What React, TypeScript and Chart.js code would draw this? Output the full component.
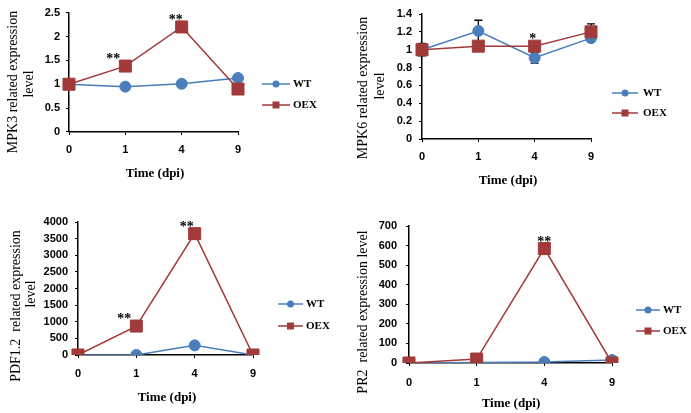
import React, { useEffect, useRef } from 'react';
import { Chart, registerables } from 'chart.js';

Chart.register(...registerables);

const W = 691;
const H = 413;

// ---- data ----
const categories = ['0', '1', '4', '9'];
const seriesNames = ['WT', 'OEX'];

const mpk3WT = [1, 0.95, 1.01, 1.13];
const mpk3OEX = [1, 1.38, 2.2, 0.9];
const mpk3Stars = ['', '**', '**', ''];
const mpk3Ticks = [0, 0.5, 1, 1.5, 2, 2.5];

const mpk6WT = [1, 1.21, 0.91, 1.13];
const mpk6OEX = [1, 1.04, 1.04, 1.2];
const mpk6WTErr = [0.07, 0.12, 0.06, 0.03];
const mpk6OEXErr = [0.05, 0.05, 0.04, 0.09];
const mpk6Stars = ['', '', '*', ''];
const mpk6Ticks = [0, 0.2, 0.4, 0.6, 0.8, 1, 1.2, 1.4];

const pdfWT = [0, 0, 290, 0];
const pdfOEX = [0, 870, 3650, 0];
const pdfStars = ['', '**', '**', ''];
const pdfTicks = [0, 500, 1000, 1500, 2000, 2500, 3000, 3500, 4000];

const pr2WT = [0, 3, 5, 15];
const pr2OEX = [0, 20, 585, 0];
const pr2Stars = ['', '', '**', ''];
const pr2Ticks = [0, 100, 200, 300, 400, 500, 600, 700];

// ---- styles / layout ----
const BLUE = '#4A7EBB';
const RED = '#A13A3A';
const TICK_FONT = { family: '"Liberation Sans", Arial, sans-serif', weight: 'bold' as const, size: 11 };

type Panel = {
  wt: number[];
  oex: number[];
  wtErr?: number[];
  oexErr?: number[];
  stars: string[];
  starDx: number[];
  ticks: number[];
  area: { l: number; r: number; t: number; b: number };
  yPad: number;
  xPad: number;
  yTitle: { text: string; x: number; y: number }[];
  xTitle: { x: number; y: number };
  legend: { x1: number; x2: number; tx: number; y1: number; y2: number };
};

const panels: Panel[] = [
  {
    wt: mpk3WT, oex: mpk3OEX, stars: mpk3Stars, starDx: [0, -12, -6, 0], ticks: mpk3Ticks,
    area: { l: 69, r: 238, t: 7, b: 132 }, yPad: 6, xPad: 8,
    yTitle: [
      { text: 'MPK3 related expression', x: 13, y: 82 },
      { text: 'level', x: 29, y: 84 },
    ],
    xTitle: { x: 155, y: 174 },
    legend: { x1: 262, x2: 290, tx: 293, y1: 84, y2: 105 },
  },
  {
    wt: mpk6WT, oex: mpk6OEX, wtErr: mpk6WTErr, oexErr: mpk6OEXErr, stars: mpk6Stars, starDx: [0, 0, -2, 0], ticks: mpk6Ticks,
    area: { l: 422, r: 591, t: 14, b: 139 }, yPad: 7, xPad: 8,
    yTitle: [
      { text: 'MPK6 related expression', x: 363, y: 88 },
      { text: 'level', x: 380, y: 86 },
    ],
    xTitle: { x: 508, y: 181 },
    legend: { x1: 612, x2: 638, tx: 643, y1: 93, y2: 113 },
  },
  {
    wt: pdfWT, oex: pdfOEX, stars: pdfStars, starDx: [0, -12, -8, 0], ticks: pdfTicks,
    area: { l: 78, r: 253, t: 222, b: 355 }, yPad: 7, xPad: 9,
    yTitle: [
      { text: 'PDF1.2  related expression', x: 16, y: 306 },
      { text: 'level', x: 31, y: 294 },
    ],
    xTitle: { x: 167, y: 398 },
    legend: { x1: 278, x2: 303, tx: 306, y1: 304, y2: 326 },
  },
  {
    wt: pr2WT, oex: pr2OEX, stars: pr2Stars, starDx: [0, 0, 0, 0], ticks: pr2Ticks,
    area: { l: 409, r: 612, t: 226, b: 363 }, yPad: 9, xPad: 10,
    yTitle: [{ text: 'PR2  related expression level', x: 363, y: 312 }],
    xTitle: { x: 511, y: 404 },
    legend: { x1: 636, x2: 660, tx: 663, y1: 310, y2: 331 },
  },
];

function makePlugin(p: Panel) {
  return {
    id: 'panelDecor',
    beforeDatasetsDraw(chart: any) {
      const ctx = chart.ctx;
      const xs = chart.scales.x;
      const ys = chart.scales.y;
      const draw = (vals: number[], errs?: number[]) => {
        if (!errs) return;
        ctx.save();
        ctx.strokeStyle = '#000';
        ctx.lineWidth = 1.3;
        vals.forEach((v, i) => {
          const x = xs.getPixelForValue(i);
          const y0 = ys.getPixelForValue(v - errs[i]);
          const y1 = ys.getPixelForValue(v + errs[i]);
          ctx.beginPath();
          ctx.moveTo(x, y0);
          ctx.lineTo(x, y1);
          ctx.moveTo(x - 4, y0);
          ctx.lineTo(x + 4, y0);
          ctx.moveTo(x - 4, y1);
          ctx.lineTo(x + 4, y1);
          ctx.stroke();
        });
        ctx.restore();
      };
      draw(p.wt, p.wtErr);
      draw(p.oex, p.oexErr);
    },
    afterDatasetsDraw(chart: any) {
      const ctx = chart.ctx;
      const xs = chart.scales.x;
      const ys = chart.scales.y;
      ctx.save();
      ctx.fillStyle = '#000';
      ctx.font = 'bold 14px "Liberation Serif", serif';
      ctx.textAlign = 'center';
      ctx.textBaseline = 'alphabetic';
      p.stars.forEach((s, i) => {
        if (!s) return;
        const x = xs.getPixelForValue(i) + p.starDx[i];
        const y = ys.getPixelForValue(p.oex[i]);
        ctx.fillText(s, x, y - 3);
      });
      ctx.restore();
    },
    afterDraw(chart: any) {
      const ctx = chart.ctx;
      ctx.save();
      ctx.fillStyle = '#000';
      // y titles
      ctx.font = '14px "Liberation Serif", serif';
      ctx.textAlign = 'center';
      ctx.textBaseline = 'middle';
      p.yTitle.forEach((t) => {
        ctx.save();
        ctx.translate(t.x, t.y);
        ctx.rotate(-Math.PI / 2);
        ctx.fillText(t.text, 0, 0);
        ctx.restore();
      });
      // x title
      ctx.font = 'bold 13px "Liberation Serif", serif';
      ctx.fillText('Time (dpi)', p.xTitle.x, p.xTitle.y);
      // legend
      const lg = p.legend;
      const xm = (lg.x1 + lg.x2) / 2;
      ctx.lineWidth = 1.5;
      ctx.strokeStyle = BLUE;
      ctx.beginPath();
      ctx.moveTo(lg.x1, lg.y1);
      ctx.lineTo(lg.x2, lg.y1);
      ctx.stroke();
      ctx.fillStyle = BLUE;
      ctx.beginPath();
      ctx.arc(xm, lg.y1, 3.5, 0, Math.PI * 2);
      ctx.fill();
      ctx.strokeStyle = RED;
      ctx.beginPath();
      ctx.moveTo(lg.x1, lg.y2);
      ctx.lineTo(lg.x2, lg.y2);
      ctx.stroke();
      ctx.fillStyle = RED;
      ctx.fillRect(xm - 3.5, lg.y2 - 3.5, 7, 7);
      ctx.fillStyle = '#000';
      ctx.font = 'bold 11px "Liberation Serif", serif';
      ctx.textAlign = 'left';
      ctx.fillText(seriesNames[0], lg.tx, lg.y1 + 0.5);
      ctx.fillText(seriesNames[1], lg.tx, lg.y2 + 0.5);
      ctx.restore();
    },
  };
}

function PanelChart({ p }: { p: Panel }) {
  const ref = useRef<HTMLCanvasElement | null>(null);
  useEffect(() => {
    if (!ref.current) return;
    const a = p.area;
    const axisGrid = {
      display: true,
      drawOnChartArea: false,
      drawTicks: true,
      tickLength: 3,
      color: '#000',
      lineWidth: 1,
    };
    const axisBorder = { display: true, color: '#000', width: 1.5 };
    const chart = new Chart(ref.current, {
      type: 'line',
      data: {
        labels: categories,
        datasets: [
          {
            label: seriesNames[1],
            data: p.oex,
            borderColor: RED,
            backgroundColor: RED,
            borderWidth: 1.5,
            pointStyle: 'rect',
            pointRadius: 8.5,
            pointBorderWidth: 1,
            pointBorderColor: RED,
            pointBackgroundColor: RED,
            order: 1,
          },
          {
            label: seriesNames[0],
            data: p.wt,
            borderColor: BLUE,
            backgroundColor: BLUE,
            borderWidth: 1.5,
            pointStyle: 'circle',
            pointRadius: 5.5,
            pointBorderWidth: 1,
            pointBorderColor: BLUE,
            pointBackgroundColor: BLUE,
            order: 2,
          },
        ],
      },
      options: {
        responsive: false,
        animation: false,
        devicePixelRatio: 1,
        layout: {
          autoPadding: false,
          padding: { left: 0, top: a.t, right: W - a.r, bottom: 0 },
        },
        plugins: {
          legend: { display: false },
          tooltip: { enabled: false },
          title: { display: false },
        },
        scales: {
          x: {
            type: 'category',
            offset: false,
            grid: axisGrid,
            border: axisBorder,
            ticks: { font: TICK_FONT, color: '#000', padding: p.xPad, maxRotation: 0, autoSkip: false },
            afterFit: (s: any) => {
              s.height = H - a.b;
            },
          },
          y: {
            min: p.ticks[0],
            max: p.ticks[p.ticks.length - 1],
            grid: axisGrid,
            border: axisBorder,
            ticks: {
              font: TICK_FONT,
              color: '#000',
              padding: p.yPad,
              callback: (v: any) => String(v),
            },
            afterBuildTicks: (s: any) => {
              s.ticks = p.ticks.map((v) => ({ value: v }));
            },
            afterFit: (s: any) => {
              s.width = a.l;
            },
          },
        },
      } as any,
      plugins: [makePlugin(p)],
    });
    return () => chart.destroy();
  }, [p]);
  return (
    <canvas
      ref={ref}
      width={W}
      height={H}
      style={{ position: 'absolute', left: 0, top: 0, width: W, height: H }}
    />
  );
}

export default function App() {
  return (
    <div style={{ position: 'absolute', left: 0, top: 0, width: W, height: H, background: '#fff', overflow: 'hidden' }}>
      {panels.map((p, i) => (
        <PanelChart key={i} p={p} />
      ))}
    </div>
  );
}
